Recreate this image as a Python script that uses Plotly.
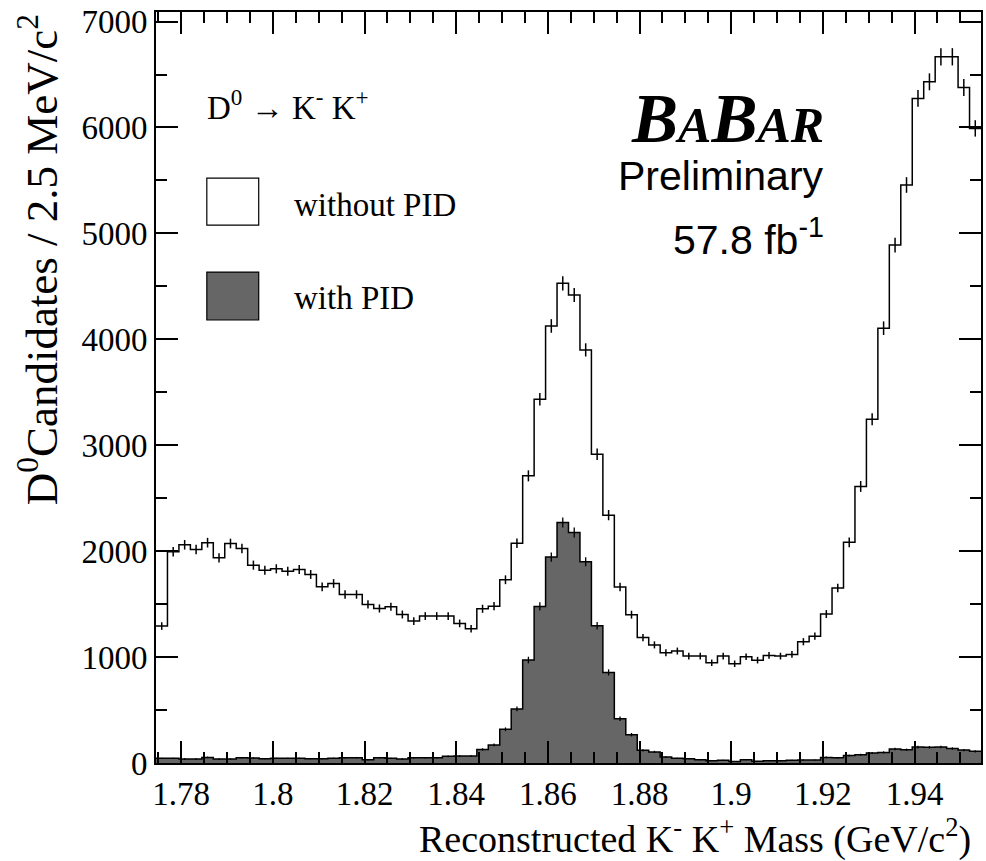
import numpy as np
import plotly.graph_objects as go

# ---- data ----
mass_min = 1.7745          # GeV/c^2, lower edge of first bin
bin_width = 0.0025         # 2.5 MeV/c^2

without_pid = [1293, 1995, 2060, 2016, 2080, 1937, 2072, 2025, 1868, 1820,
               1833, 1811, 1827, 1780, 1663, 1695, 1591, 1591, 1497, 1459,
               1475, 1402, 1340, 1387, 1387, 1387, 1318, 1267, 1456, 1481,
               1730, 2075, 2711, 3434, 4126, 4529, 4419, 3900, 2915, 2340,
               1662, 1400, 1184, 1115, 1041, 1057, 1009, 1009, 946, 1009,
               937, 1003, 971, 1016, 1009, 1025, 1145, 1197, 1406, 1652,
               2083, 2611, 3246, 4105, 4890, 5457, 6274, 6431, 6667, 6667,
               6378, 5991]

with_pid = [44, 44, 38, 38, 53, 38, 38, 50, 47, 41,
            44, 44, 44, 41, 41, 44, 50, 50, 31, 50,
            44, 38, 50, 50, 50, 63, 66, 66, 128, 170,
            318, 510, 972, 1478, 1944, 2271, 2176, 1900, 1296, 855,
            418, 267, 120, 105, 57, 44, 41, 31, 22, 25,
            13, 31, 16, 22, 22, 25, 28, 28, 53, 50,
            70, 78, 94, 100, 133, 125, 150, 148, 151, 138,
            122, 110]

x_tick_vals = [1.78, 1.80, 1.82, 1.84, 1.86, 1.88, 1.90, 1.92, 1.94]
x_tick_text = ["1.78", "1.8", "1.82", "1.84", "1.86", "1.88", "1.9", "1.92", "1.94"]
y_tick_vals = [0, 1000, 2000, 3000, 4000, 5000, 6000, 7000]

# ---- derived bin geometry ----
nb = len(without_pid)
edges = mass_min + bin_width * np.arange(nb + 1)
centers = 0.5 * (edges[:-1] + edges[1:])
wo = np.array(without_pid, dtype=float)
wi = np.array(with_pid, dtype=float)

SERIF = "Liberation Serif, Times New Roman, serif"
SANS = "Liberation Sans, Arial, sans-serif"

fig = go.Figure()

# filled histogram (with PID)
fig.add_trace(go.Scatter(
    x=edges, y=np.append(wi, wi[-1]), mode="lines", line_shape="hv",
    line=dict(color="black", width=1.5), fill="tozeroy", fillcolor="#666666",
    showlegend=False, hoverinfo="skip"))
fig.add_trace(go.Scatter(
    x=centers, y=wi, mode="markers", marker=dict(size=1, color="rgba(0,0,0,0)"),
    error_y=dict(type="data", array=np.sqrt(wi), width=0, thickness=1.3, color="black"),
    showlegend=False))

# open histogram (without PID)
fig.add_trace(go.Scatter(
    x=edges, y=np.append(wo, wo[-1]), mode="lines", line_shape="hv",
    line=dict(color="black", width=1.5), showlegend=False, hoverinfo="skip"))
fig.add_trace(go.Scatter(
    x=centers, y=wo, mode="markers", marker=dict(size=1, color="rgba(0,0,0,0)"),
    error_y=dict(type="data", array=np.sqrt(wo), width=0, thickness=1.5, color="black"),
    showlegend=False))

axis_common = dict(
    showline=True, linecolor="black", linewidth=2, mirror="ticks",
    ticks="inside", ticklen=22, tickwidth=1.5, tickcolor="black",
    showgrid=False, zeroline=False,
    tickfont=dict(family=SERIF, size=33, color="black"),
)

fig.update_xaxes(
    range=[edges[0], edges[-1]], tickmode="array", tickvals=x_tick_vals,
    ticktext=x_tick_text,
    minor=dict(dtick=bin_width * 2, tick0=1.78, ticks="inside", ticklen=11,
               tickwidth=1.5, tickcolor="black", showgrid=False),
    **axis_common)
fig.update_yaxes(
    range=[0, 7090], tickmode="array", tickvals=y_tick_vals, tickformat="d",
    minor=dict(dtick=500, tick0=0, ticks="inside", ticklen=11,
               tickwidth=1.5, tickcolor="black", showgrid=False),
    **axis_common)

annotations = [
    dict(text="D<sup>0</sup>Candidates / 2.5 MeV/c<sup>2</sup>", textangle=-90,
         x=-0.142, y=1.0, xanchor="center", yanchor="top",
         font=dict(family=SERIF, size=45, color="black")),
    dict(text="Reconstructed K<sup>-</sup> K<sup>+</sup> Mass (GeV/c<sup>2</sup>)",
         x=0.9897, y=-0.098, xanchor="right", yanchor="middle",
         font=dict(family=SERIF, size=38, color="black")),
    dict(text="D<sup>0</sup> \u2192 K<sup>-</sup> K<sup>+</sup>",
         x=0.0592, y=0.8759, xanchor="left", yanchor="middle",
         font=dict(family=SERIF, size=33, color="black")),
    dict(text="without PID", x=0.1643, y=0.7428, xanchor="left", yanchor="middle",
         font=dict(family=SERIF, size=33, color="black")),
    dict(text="with PID", x=0.1643, y=0.6192, xanchor="left", yanchor="middle",
         font=dict(family=SERIF, size=33, color="black")),
    dict(text="<b><i>B<span style='font-size:50px'>A</span>B<span style='font-size:50px'>AR</span></i></b>",
         x=0.8121, y=0.857, xanchor="right", yanchor="middle",
         font=dict(family=SERIF, size=69, color="black")),
    dict(text="Preliminary", x=0.8121, y=0.7815, xanchor="right", yanchor="middle",
         font=dict(family=SANS, size=41, color="black")),
    dict(text="57.8 fb<sup>-1</sup>", x=0.8121, y=0.7000, xanchor="right", yanchor="middle",
         font=dict(family=SANS, size=41, color="black")),
]
for a in annotations:
    a.update(xref="paper", yref="paper", showarrow=False)

shapes = [
    dict(type="rect", xref="paper", yref="paper", x0=0.0616, x1=0.1245, y0=0.7163, y1=0.7788,
         line=dict(color="black", width=1.2), fillcolor="white"),
    dict(type="rect", xref="paper", yref="paper", x0=0.0616, x1=0.1245, y0=0.5899, y1=0.6537,
         line=dict(color="black", width=1.2), fillcolor="#666666"),
]

fig.update_layout(
    width=986, height=861,
    margin=dict(l=156, r=3, t=12, b=98),
    paper_bgcolor="white", plot_bgcolor="white",
    annotations=annotations, shapes=shapes, showlegend=False,
)

fig.write_html("out.html")
